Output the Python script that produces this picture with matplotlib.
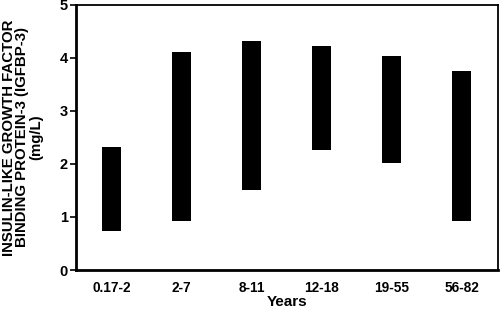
import matplotlib
matplotlib.use('Agg')
import matplotlib.pyplot as plt

# age groups (years) and IGFBP-3 reference range (mg/L)
age_groups = ['0.17-2', '2-7', '8-11', '12-18', '19-55', '56-82']
range_low = [0.74, 0.92, 1.51, 2.26, 2.02, 0.92]
range_high = [2.32, 4.11, 4.32, 4.23, 4.04, 3.75]

plt.rcParams['font.family'] = ['Liberation Sans', 'DejaVu Sans']
plt.rcParams['font.weight'] = 'bold'

fig = plt.figure(figsize=(5, 3.1), dpi=100)
ax = fig.add_axes([0.152, 0.129, 0.844, 0.855])

heights = [h - l for l, h in zip(range_low, range_high)]
ax.bar(range(len(age_groups)), heights, bottom=range_low, width=0.28, color='black')

ax.set_xlim(-0.51, 5.52)
ax.set_ylim(0, 5)
ax.set_yticks(range(6))
ax.set_xticks(range(len(age_groups)))
ax.set_xticklabels(age_groups)
ax.tick_params(axis='x', length=0, pad=8, labelsize=9.8)
ax.tick_params(axis='y', length=4, width=1.2, pad=2, labelsize=10.5)

for side in ['left', 'bottom']:
    ax.spines[side].set_linewidth(2)
for side in ['top', 'right']:
    ax.spines[side].set_linewidth(1.3)

ax.set_xlabel('Years', fontsize=11, fontweight='bold', labelpad=0)
ax.set_ylabel('INSULIN-LIKE GROWTH FACTOR\nBINDING PROTEIN-3 (IGFBP-3)\n(mg/L)',
              fontsize=10.8, fontweight='bold', linespacing=0.95, labelpad=12)

fig.savefig('out.png', dpi=100)
